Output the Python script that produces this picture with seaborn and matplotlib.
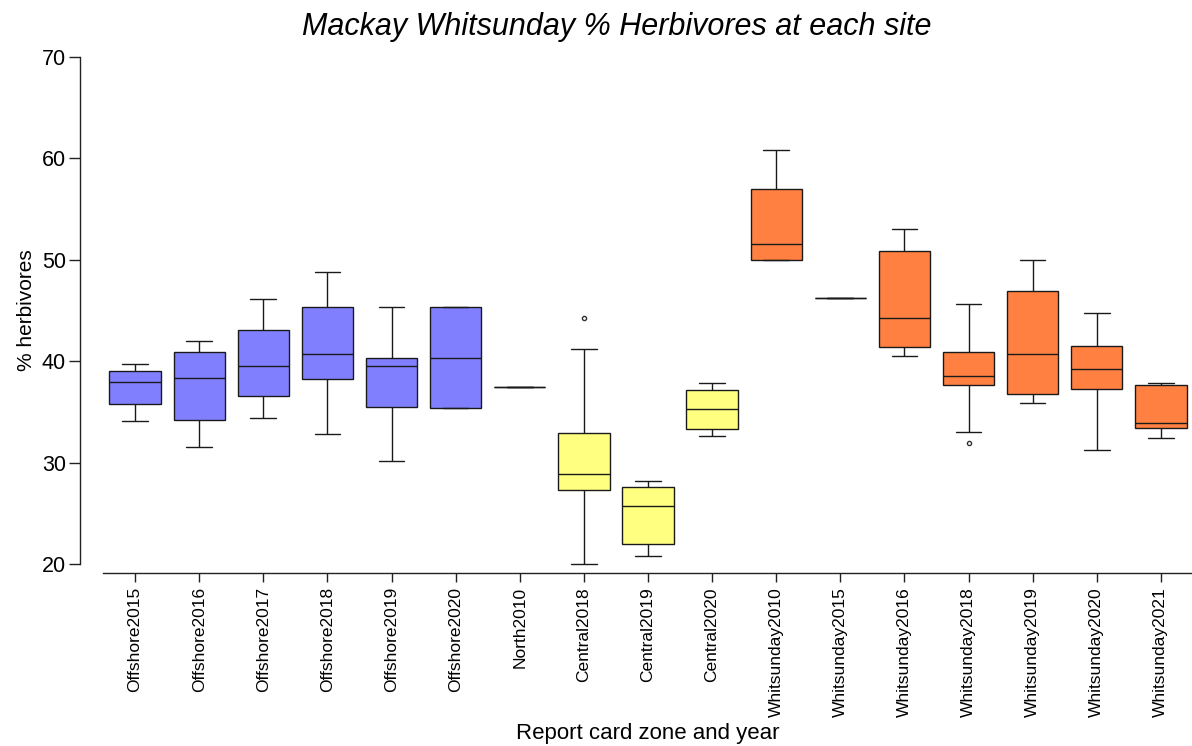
import matplotlib
matplotlib.use("Agg")
import matplotlib.pyplot as plt
import pandas as pd
import seaborn as sns

# Site-level % herbivores per report card zone and year
categories = [
    "Offshore2015", "Offshore2016", "Offshore2017", "Offshore2018",
    "Offshore2019", "Offshore2020", "North2010", "Central2018",
    "Central2019", "Central2020", "Whitsunday2010", "Whitsunday2015",
    "Whitsunday2016", "Whitsunday2018", "Whitsunday2019",
    "Whitsunday2020", "Whitsunday2021",
]
zones = [
    "Offshore", "Offshore", "Offshore", "Offshore", "Offshore", "Offshore",
    "North", "Central", "Central", "Central", "Whitsunday", "Whitsunday",
    "Whitsunday", "Whitsunday", "Whitsunday", "Whitsunday", "Whitsunday",
]

offshore2015 = [34.1, 35.8, 37.9, 39.0, 39.7]
offshore2016 = [31.5, 34.2, 38.3, 40.9, 42.0]
offshore2017 = [34.4, 36.6, 39.5, 43.1, 46.1]
offshore2018 = [32.8, 38.2, 40.7, 45.3, 48.8]
offshore2019 = [30.2, 35.5, 39.5, 40.3, 45.3]
offshore2020 = [35.4, 35.4, 40.3, 45.3, 45.3]
north2010 = [37.5, 37.5, 37.5, 37.5, 37.5]
central2018 = [20.0, 27.3, 27.3, 28.9, 28.9, 32.9, 32.9, 41.2, 44.3]
central2019 = [20.8, 22.0, 25.7, 27.6, 28.2]
central2020 = [32.6, 33.3, 35.3, 37.2, 37.8]
whitsunday2010 = [50.0, 50.0, 51.6, 57.0, 60.8]
whitsunday2015 = [46.2, 46.2, 46.2, 46.2, 46.2]
whitsunday2016 = [40.5, 41.4, 44.3, 50.9, 53.0]
whitsunday2018 = [31.9, 33.0, 37.7, 37.7, 38.5, 38.5, 40.9, 40.9, 45.6]
whitsunday2019 = [35.9, 36.8, 40.7, 46.9, 50.0]
whitsunday2020 = [31.2, 37.3, 39.2, 41.5, 44.8]
whitsunday2021 = [32.4, 33.4, 33.9, 37.7, 37.8]

site_values = [
    offshore2015, offshore2016, offshore2017, offshore2018, offshore2019,
    offshore2020, north2010, central2018, central2019, central2020,
    whitsunday2010, whitsunday2015, whitsunday2016, whitsunday2018,
    whitsunday2019, whitsunday2020, whitsunday2021,
]

zone_colors = {
    "Offshore": "#8080FF",
    "North": "#8080FF",
    "Central": "#FFFF80",
    "Whitsunday": "#FF8040",
}

rows = []
for cat, zone, vals in zip(categories, zones, site_values):
    for v in vals:
        rows.append({"site": cat, "zone": zone, "herbivores": v})
df = pd.DataFrame(rows)

sns.set_theme(style="ticks")
plt.rcParams["font.family"] = ["Liberation Sans", "DejaVu Sans"]
plt.rcParams["text.color"] = "black"
plt.rcParams["axes.labelcolor"] = "black"

fig = plt.figure(figsize=(11.92, 7.46), dpi=100)
ax = fig.add_axes([0.0864, 0.2372, 0.9144, 0.6932])

line_col = "#1a1a1a"
sns.boxplot(
    data=df, x="site", y="herbivores", hue="zone", order=categories,
    palette=zone_colors, dodge=False, legend=False, saturation=1,
    width=0.8, linewidth=1.0, linecolor=line_col, ax=ax,
    flierprops=dict(marker="o", markersize=3, markerfacecolor="none",
                    markeredgecolor="#333333", markeredgewidth=1.0),
)

ax.set_ylim(19.5, 70.5)
ax.set_xlim(-0.5, len(categories) - 0.5)
ax.set_yticks([20, 30, 40, 50, 60, 70])

for side in ("top", "right"):
    ax.spines[side].set_visible(False)
ax.spines["left"].set_position(("outward", 16.6))
ax.spines["left"].set_bounds(20, 70)
ax.spines["bottom"].set_position(("outward", 3))
for side in ("left", "bottom"):
    ax.spines[side].set_color("#222222")
    ax.spines[side].set_linewidth(1.0)

ax.tick_params(axis="y", labelsize=15.5, length=8, width=1.0, pad=2,
               color="#222222", labelcolor="black")
ax.tick_params(axis="x", labelsize=12.5, length=6.5, width=1.0, pad=3.5,
               color="#222222", labelcolor="black", rotation=90)

ax.set_xlabel("Report card zone and year", fontsize=16, labelpad=4.5)
ax.set_ylabel("% herbivores", fontsize=15, labelpad=4)

fig.text(0.5176, 0.964, "Mackay Whitsunday % Herbivores at each site",
         fontsize=22, style="italic", ha="center", va="center", color="black")

fig.savefig("out.png", dpi=100)
